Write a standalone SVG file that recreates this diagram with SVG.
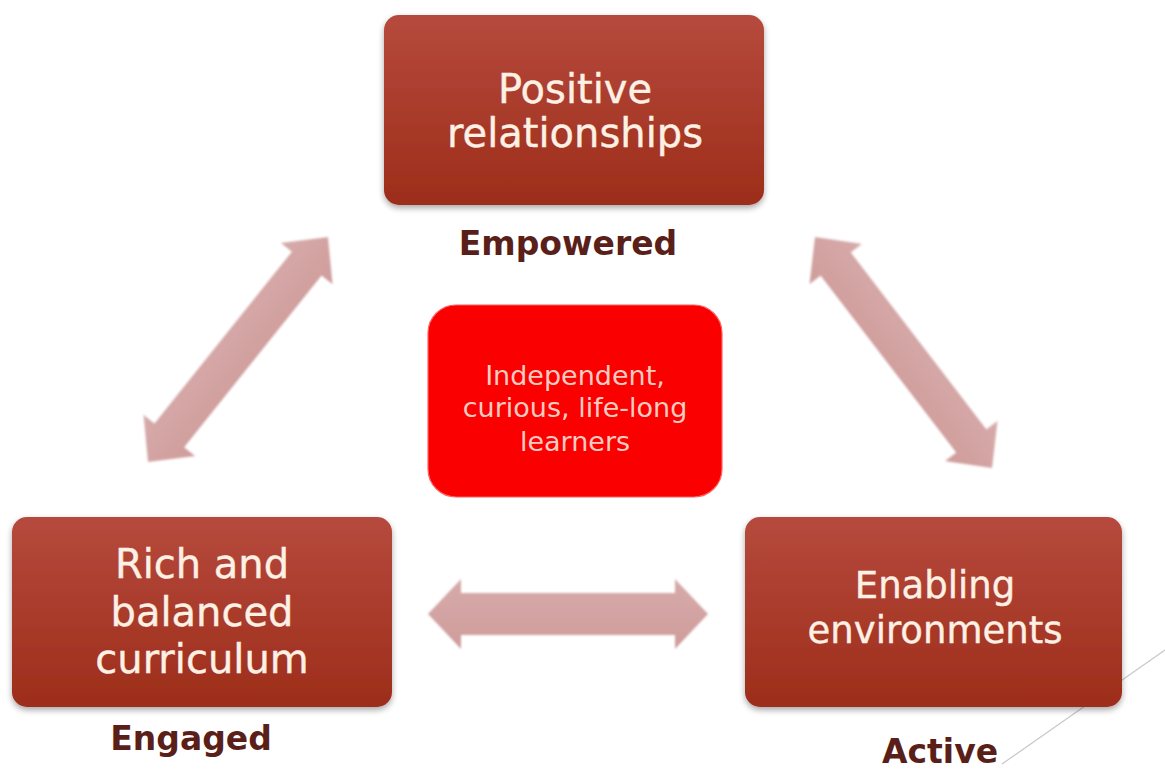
<svg xmlns="http://www.w3.org/2000/svg" width="1165" height="769" viewBox="0 0 1165 769">
<defs>
<linearGradient id="boxg" x1="0" y1="0" x2="0" y2="1">
<stop offset="0" stop-color="#b64a3d"/>
<stop offset="1" stop-color="#9d2d1a"/>
</linearGradient>
<linearGradient id="arrg" x1="0" y1="0" x2="0" y2="1">
<stop offset="0" stop-color="#d6abaa"/>
<stop offset="1" stop-color="#cf9c9b"/>
</linearGradient>
<filter id="sh" x="-10%" y="-10%" width="120%" height="130%">
<feGaussianBlur in="SourceAlpha" stdDeviation="3"/>
<feOffset dx="0" dy="3" result="b"/>
<feComponentTransfer><feFuncA type="linear" slope="0.35"/></feComponentTransfer>
<feMerge><feMergeNode/><feMergeNode in="SourceGraphic"/></feMerge>
</filter>
<filter id="ash" x="-10%" y="-20%" width="120%" height="140%">
<feGaussianBlur in="SourceGraphic" stdDeviation="1.2"/>
</filter>
<style>
.box{fill:url(#boxg);filter:url(#sh);}
.btxt{font-family:"DejaVu Sans",sans-serif;fill:#fdf0e4;text-anchor:middle;stroke:#fdf0e4;stroke-width:0.4;}
.lbl{font-family:"DejaVu Sans",sans-serif;font-weight:bold;font-size:33px;fill:#5a1f19;text-anchor:middle;}
.arr{fill:url(#arrg);filter:url(#ash);}
.ctxt{font-family:"DejaVu Sans",sans-serif;font-size:27px;fill:#f7cbc0;text-anchor:middle;}
</style>
</defs>
<rect width="1165" height="769" fill="#ffffff"/>
<line x1="1165" y1="650" x2="1002" y2="764" stroke="#c8c8c8" stroke-width="1.2"/>
<g id="connectors">
<path class="arr" transform="translate(568,614)" d="M-140,0 L-107,-35 L-107,-21 L107,-21 L107,-35 L140,0 L107,35 L107,21 L-107,21 L-107,35 Z"/>
<path class="arr" transform="translate(238,349.5) rotate(-51.34)" d="M-144,0 L-110,-33 L-110,-19 L110,-19 L110,-33 L144,0 L110,33 L110,19 L-110,19 L-110,33 Z"/>
<path class="arr" transform="translate(903.5,352.5) rotate(52.54)" d="M-145.5,0 L-111.5,-33 L-111.5,-19 L111.5,-19 L111.5,-33 L145.5,0 L111.5,33 L111.5,19 L-111.5,19 L-111.5,33 Z"/>
</g>
<g id="node-positive">
<rect class="box" x="384" y="15" width="380" height="190" rx="15"/>
<text class="btxt" font-size="40" x="575" y="103">Positive</text>
<text class="btxt" font-size="40" x="575" y="147">relationships</text>
<text class="lbl" x="568" y="255">Empowered</text>
</g>
<g id="node-center">
<rect x="428" y="305" width="294" height="192" rx="28" fill="#fb0000" stroke="#ff6060" stroke-width="1.2"/>
<text class="ctxt" x="575" y="385">Independent,</text>
<text class="ctxt" x="575" y="417">curious, life-long</text>
<text class="ctxt" x="575" y="451">learners</text>
</g>
<g id="node-rich">
<rect class="box" x="12" y="517" width="380" height="190" rx="15"/>
<text class="btxt" font-size="40" x="202" y="578">Rich and</text>
<text class="btxt" font-size="40" x="202" y="626">balanced</text>
<text class="btxt" font-size="40" x="202" y="673">curriculum</text>
<text class="lbl" x="191" y="750">Engaged</text>
</g>
<g id="node-enabling">
<rect class="box" x="745" y="517" width="377" height="190" rx="15"/>
<text class="btxt" font-size="37" x="935" y="598">Enabling</text>
<text class="btxt" font-size="37" x="935" y="643">environments</text>
<text class="lbl" x="940" y="763">Active</text>
</g>
</svg>
